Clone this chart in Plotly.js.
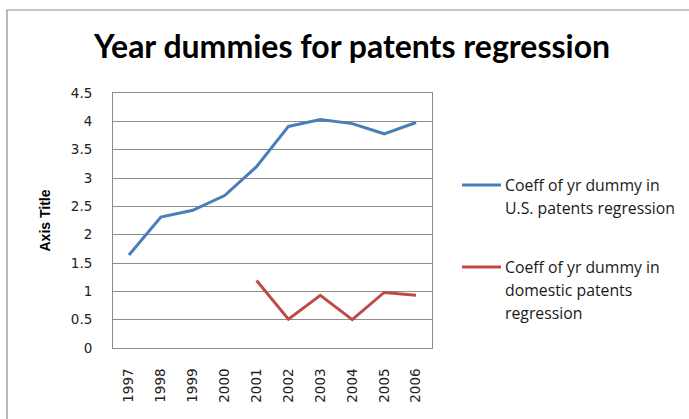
<!DOCTYPE html>
<html>
<head>
<meta charset="utf-8">
<script src="https://cdn.plot.ly/plotly-3.0.1.min.js"></script>
<style>html,body{margin:0;padding:0;background:#fff;}#chart{width:689px;height:419px;}</style>
</head>
<body>
<div id="chart"></div>
<script>
const years = ['1997','1998','1999','2000','2001','2002','2003','2004','2005','2006'];
const usCoeff = [1.64, 2.31, 2.43, 2.69, 3.20, 3.91, 4.03, 3.96, 3.78, 3.98];
const domesticCoeff = [null, null, null, null, 1.19, 0.51, 0.93, 0.50, 0.98, 0.93];
const seriesNames = ['Coeff of yr dummy in U.S. patents regression', 'Coeff of yr dummy in domestic patents regression'];
const legendLines = [['Coeff of yr dummy in', 'U.S. patents regression'], ['Coeff of yr dummy in', 'domestic patents', 'regression']];
const colors = ['#4a7ebb', '#be4b48'];

const traces = [
  {x: years, y: usCoeff, type: 'scatter', mode: 'lines', name: seriesNames[0], line: {color: colors[0], width: 3}, showlegend: false},
  {x: years, y: domesticCoeff, type: 'scatter', mode: 'lines', name: seriesNames[1], line: {color: colors[1], width: 3}, showlegend: false}
];

const L = 113, R = 432, T = 93, B = 348;
const pw = R - L, ph = B - T;
const px = v => (v - L) / pw;
const py = v => (B - v) / ph;

const legendFont = {family: 'Open Sans', size: 15.8, color: '#1a1a1a'};
const entryTops = [185, 267];
const lineGap = 23;
const shapes = [
  {type: 'rect', xref: 'paper', yref: 'paper', x0: px(7), x1: px(720), y0: py(440), y1: py(10), line: {color: '#8c8c8c', width: 1.2}, fillcolor: 'rgba(0,0,0,0)', layer: 'below'}
];
const annotations = [];
legendLines.forEach((lines, i) => {
  shapes.push({type: 'line', xref: 'paper', yref: 'paper', x0: px(462), x1: px(501), y0: py(entryTops[i]), y1: py(entryTops[i]), line: {color: colors[i], width: 3}});
  lines.forEach((t, j) => {
    annotations.push({xref: 'paper', yref: 'paper', x: px(503), y: py(entryTops[i] + j * lineGap), text: t, showarrow: false, xanchor: 'left', yanchor: 'middle', font: legendFont});
  });
});

const layout = {
  width: 689, height: 419,
  margin: {l: L, r: 689 - R, t: T, b: 419 - B, pad: 0},
  paper_bgcolor: '#fff', plot_bgcolor: '#fff',
  title: {text: 'Year dummies for patents regression', font: {family: 'Lato', size: 32, color: '#000', weight: 'bold'}, x: 352 / 689, xanchor: 'center', y: 1 - 47 / 419, yanchor: 'middle'},
  xaxis: {type: 'category', range: [-0.5, 9.5], tickangle: -90, tickfont: {family: 'DejaVu Sans', size: 13.5, color: '#222'}, showgrid: false, showline: true, linecolor: '#8c8c8c', linewidth: 1, mirror: true, ticks: '', ticklabelstandoff: 14, zeroline: false, fixedrange: true},
  yaxis: {range: [0, 4.5], dtick: 0.5, tickfont: {family: 'DejaVu Sans', size: 13.5, color: '#222'}, showgrid: true, gridcolor: '#8c8c8c', gridwidth: 1, showline: true, linecolor: '#8c8c8c', linewidth: 1, mirror: true, ticks: '', ticklabelstandoff: 17, zeroline: false,
    title: {text: 'Axis Title', font: {family: 'Liberation Sans', size: 14, color: '#000', weight: 'bold'}, standoff: 16}, automargin: false, fixedrange: true},
  shapes: shapes,
  annotations: annotations,
  showlegend: false
};

Plotly.newPlot('chart', traces, layout, {displayModeBar: false, staticPlot: true});
</script>
</body>
</html>
